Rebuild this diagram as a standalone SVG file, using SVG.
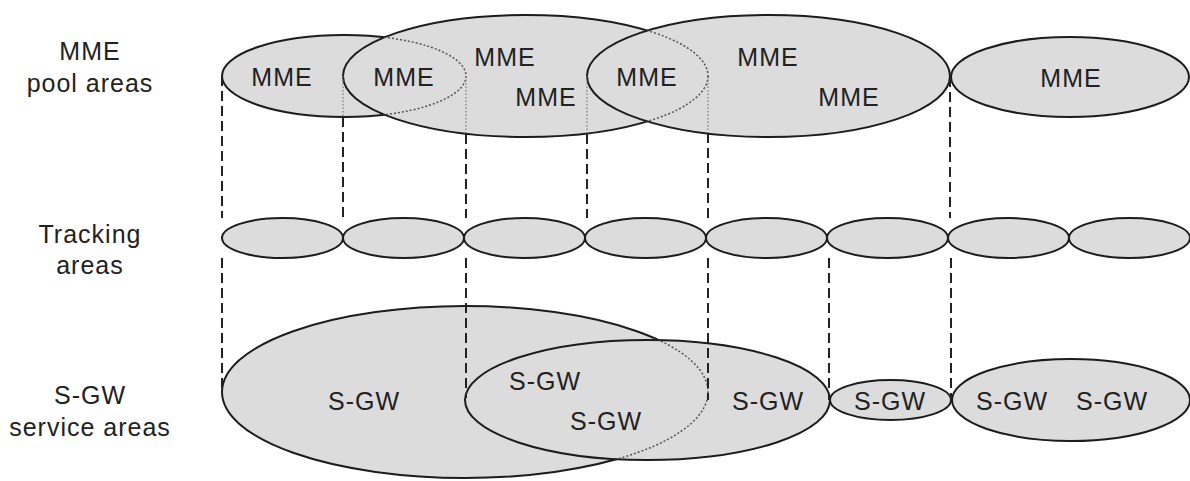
<svg xmlns="http://www.w3.org/2000/svg" width="1190" height="481" viewBox="0 0 1190 481">
<style>
.area{fill:#dcdcdc;stroke:#1c1c1c;stroke-width:2}
.hidden{fill:none;stroke:#555;stroke-width:1.5;stroke-dasharray:2 2}
.dash{stroke:#222;stroke-width:2;stroke-dasharray:10 5;fill:none}
.dot{stroke:#777;stroke-width:1.2;stroke-dasharray:1.5 2;fill:none}
text{font-family:"Liberation Sans",Arial,sans-serif;font-size:25px;fill:#222;text-anchor:middle;letter-spacing:1px}
</style>
<defs>
<clipPath id="clipB"><ellipse cx="525.5" cy="76" rx="182.5" ry="61"/></clipPath>
<clipPath id="clipC"><ellipse cx="768.5" cy="76" rx="181.5" ry="61"/></clipPath>
<clipPath id="clipF"><ellipse cx="647.5" cy="400" rx="182.5" ry="60"/></clipPath>
</defs>
<rect width="1190" height="481" fill="#fff"/>
<g id="labels">
<text x="90" y="60">MME</text>
<text x="90" y="92">pool areas</text>
<text x="90" y="243">Tracking</text>
<text x="90" y="274">areas</text>
<text x="90" y="404">S-GW</text>
<text x="90" y="436">service areas</text>
</g>
<g id="mme-pool-1"><ellipse class="area" cx="344" cy="76" rx="122" ry="41"/></g>
<g id="mme-pool-2"><ellipse class="area" cx="525.5" cy="76" rx="182.5" ry="61"/>
<ellipse class="hidden" cx="344" cy="76" rx="122" ry="41" clip-path="url(#clipB)"/></g>
<g id="mme-pool-3"><ellipse class="area" cx="768.5" cy="76" rx="181.5" ry="61"/>
<ellipse class="hidden" cx="525.5" cy="76" rx="182.5" ry="61" clip-path="url(#clipC)"/></g>
<g id="mme-pool-4"><ellipse class="area" cx="1070" cy="77" rx="119" ry="40"/></g>
<g id="mme-texts">
<text x="282" y="86">MME</text>
<text x="404" y="86">MME</text>
<text x="505" y="66">MME</text>
<text x="546" y="106">MME</text>
<text x="647" y="86">MME</text>
<text x="768" y="66">MME</text>
<text x="849" y="106">MME</text>
<text x="1071" y="87">MME</text>
</g>
<g id="tracking-areas">
<ellipse class="area" cx="282.5" cy="238" rx="60.5" ry="20"/>
<ellipse class="area" cx="403.5" cy="238" rx="60.5" ry="20"/>
<ellipse class="area" cx="524.5" cy="238" rx="60.5" ry="20"/>
<ellipse class="area" cx="645.5" cy="238" rx="60.5" ry="20"/>
<ellipse class="area" cx="766.5" cy="238" rx="60.5" ry="20"/>
<ellipse class="area" cx="887.5" cy="238" rx="60.5" ry="20"/>
<ellipse class="area" cx="1008.5" cy="238" rx="60.5" ry="20"/>
<ellipse class="area" cx="1129.5" cy="238" rx="60.5" ry="20"/>
</g>
<g id="sgw-1"><ellipse class="area" cx="465" cy="392" rx="243" ry="86"/>
<text x="364" y="410">S-GW</text></g>
<g id="sgw-2"><ellipse class="area" cx="647.5" cy="400" rx="182.5" ry="60"/>
<ellipse class="hidden" cx="465" cy="392" rx="243" ry="86" clip-path="url(#clipF)"/>
<text x="545" y="390">S-GW</text>
<text x="606" y="430">S-GW</text>
<text x="768" y="410">S-GW</text></g>
<g id="sgw-3"><ellipse class="area" cx="890.5" cy="400" rx="60.5" ry="20"/>
<text x="890" y="410">S-GW</text></g>
<g id="sgw-4"><ellipse class="area" cx="1071" cy="400" rx="119" ry="41"/>
<text x="1012" y="410">S-GW</text>
<text x="1112" y="410">S-GW</text></g>
<g id="connectors">
<line class="dash" x1="222" y1="76" x2="222" y2="218"/>
<line class="dot" x1="343" y1="76" x2="343" y2="117"/>
<line class="dash" x1="343" y1="117" x2="343" y2="218"/>
<line class="dot" x1="466" y1="76" x2="466" y2="134"/>
<line class="dash" x1="466" y1="134" x2="466" y2="218"/>
<line class="dot" x1="587" y1="76" x2="587" y2="134"/>
<line class="dash" x1="587" y1="134" x2="587" y2="218"/>
<line class="dot" x1="708" y1="76" x2="708" y2="133"/>
<line class="dash" x1="708" y1="133" x2="708" y2="218"/>
<line class="dash" x1="950" y1="77" x2="950" y2="218"/>
<line class="dash" x1="222" y1="258" x2="222" y2="392"/>
<line class="dash" x1="466" y1="258" x2="466" y2="398"/>
<line class="dash" x1="708" y1="258" x2="708" y2="400"/>
<line class="dash" x1="829" y1="258" x2="829" y2="400"/>
<line class="dash" x1="951" y1="258" x2="951" y2="400"/>
</g>
</svg>
